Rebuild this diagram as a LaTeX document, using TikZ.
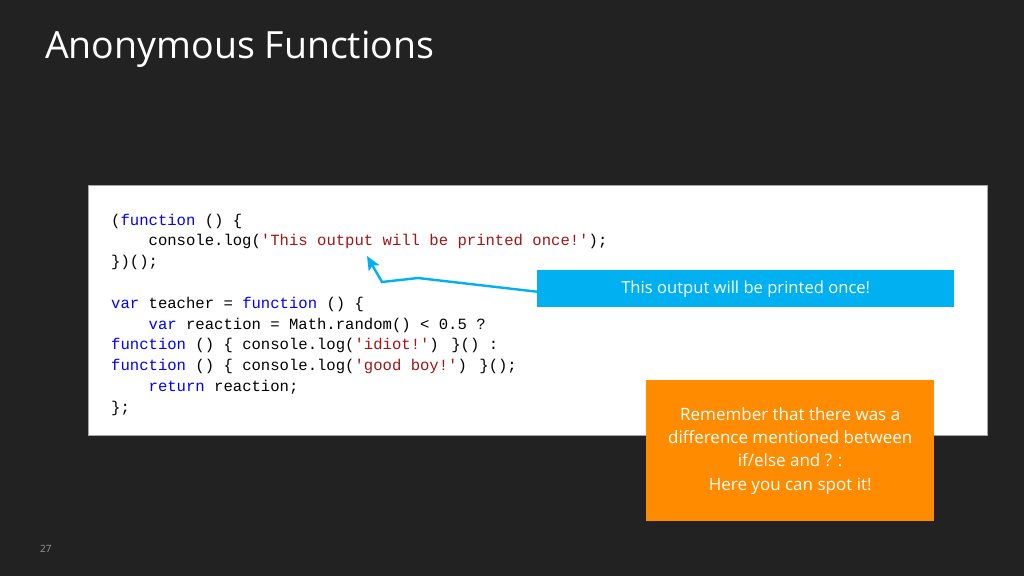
\documentclass[tikz,border=0pt]{standalone}
\usepackage{fontspec}
\setmainfont{Open Sans}
\newfontfamily\codefont{Liberation Mono}
\usetikzlibrary{arrows.meta}
\definecolor{bgdark}{HTML}{222222}
\definecolor{calloutblue}{HTML}{00B0F0}
\definecolor{noteorange}{HTML}{FF8C00}
\definecolor{kwblue}{HTML}{0000FF}
\definecolor{strred}{HTML}{A31515}
\newcommand{\kw}[1]{\textcolor{kwblue}{#1}}
\newcommand{\str}[1]{\textcolor{strred}{#1}}
\begin{document}
\begin{tikzpicture}[x=1pt,y=-1pt,
  codeline/.style={anchor=base west,inner sep=0pt,font=\codefont\fontsize{15.6}{18}\selectfont,text=black},
  bluebox/.style={fill=calloutblue,draw=none,text=white,font=\fontsize{16.6}{20}\selectfont},
  orangebox/.style={fill=noteorange,draw=none,text=white,align=center,font=\fontsize{17}{23.3}\selectfont},
  pointer/.style={draw=calloutblue,line width=2.4pt,-{Stealth[length=14pt,width=12pt,inset=3pt]}}]
\useasboundingbox (0,0) rectangle (1024,576);
\fill[bgdark] (0,0) rectangle (1024,576);
% title
\node[anchor=base west,inner sep=0pt,text=white,font=\fontsize{37.5}{44}\selectfont] (title) at (45,58) {Anonymous Functions};
% code panel
\node[draw=gray!70,line width=0.8pt,fill=white,minimum width=899pt,minimum height=250pt,anchor=north west,inner sep=0pt] (panel) at (88,185) {};
\def\cx{111}
\node[codeline] (l1) at (\cx,225) {(\kw{function} () \{};
\node[codeline] (l2) at (\cx,245.8) {\ \ \ \ console.log(\str{'This output will be printed once!'});};
\node[codeline] (l3) at (\cx,266.6) {\})();};
\node[codeline] (l5) at (\cx,308.2) {\kw{var} teacher = \kw{function} () \{};
\node[codeline] (l6) at (\cx,329) {\ \ \ \ \kw{var} reaction = Math.random() < 0.5 ?};
\node[codeline] (l7) at (\cx,349.8) {\kw{function} () \{ console.log(\str{'idiot!'}) \}() :};
\node[codeline] (l8) at (\cx,370.6) {\kw{function} () \{ console.log(\str{'good boy!'}) \}();};
\node[codeline] (l9) at (\cx,391.4) {\ \ \ \ \kw{return} reaction;};
\node[codeline] (l10) at (\cx,412.2) {\};};
% blue callout
\node[bluebox,minimum width=417pt,minimum height=37pt,anchor=north west,inner sep=0pt] (callout) at (537,270) {This output will be printed once!};
\coordinate (b1) at (418,278);
\coordinate (b2) at (382,282);
\coordinate (tip) at (367,256);
\draw[pointer] ([yshift=-3pt]callout.west) -- (b1) -- (b2) -- (tip);
% orange note
\node[orangebox,minimum width=288pt,minimum height=141pt,anchor=north west,inner sep=0pt] (note) at (646,380) {Remember that there was a\\difference mentioned between\\if/else and ? :\\Here you can spot it!};
% page number
\node[anchor=base west,inner sep=0pt,text=gray!80,font=\fontsize{10}{11}\selectfont] (pagenum) at (40,552) {27};
\end{tikzpicture}
\end{document}
